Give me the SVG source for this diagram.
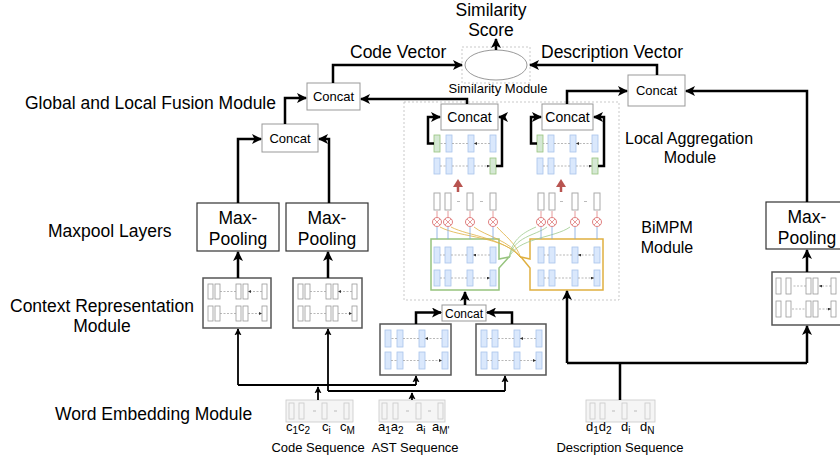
<svg xmlns="http://www.w3.org/2000/svg" width="840" height="461" viewBox="0 0 840 461">
<defs>
<style>
.t{font-family:"Liberation Sans",Arial,sans-serif;fill:#000}
.l{font-size:16px}
.L{font-size:17.5px}
.s{font-size:13px}
.c{text-anchor:middle}
.box{fill:#fff;stroke:#999;stroke-width:1}
.mp{fill:#fff;stroke:#333;stroke-width:1.2}
.ctx{fill:#fff;stroke:#555;stroke-width:1.5}
.g{fill:#fff;stroke:#999;stroke-width:0.8}
.b{fill:#dae8fc;stroke:#a9c4eb;stroke-width:0.8}
.gr{fill:#d5e8d4;stroke:#97c47e;stroke-width:0.8}
.seq{fill:#f5f5f5;stroke:#c8c8c8;stroke-width:0.8}
.w{fill:none;stroke:#000;stroke-width:2.5}
.th{fill:none;stroke:#000;stroke-width:1.8}
.d{fill:none;stroke:#999;stroke-width:0.7;stroke-dasharray:2 1.5}
.dash{stroke:#bbb;stroke-width:1}
.ob{fill:#fff;stroke:#aaa;stroke-width:1}
.ci{fill:#fff;stroke:#e08080;stroke-width:1}
.cx{stroke:#e08080;stroke-width:0.8}
.ra{stroke:#e08080;stroke-width:0.8;fill:none}
.ba{stroke:#7ea6e0;stroke-width:0.8;fill:none}
.og{fill:none;stroke:#e0b040;stroke-width:0.8}
.gg{fill:none;stroke:#9cc98a;stroke-width:0.8}
</style>
<marker id="a" viewBox="0 0 10 10" refX="9" refY="5" markerWidth="4" markerHeight="4" orient="auto"><path d="M0,0 L10,5 L0,10 L2.5,5 z" fill="#000"/></marker>
<marker id="sm" viewBox="0 0 6 6" refX="6" refY="3" markerWidth="3" markerHeight="3" markerUnits="userSpaceOnUse" orient="auto"><path d="M0,0 L6,3 L0,6 z" fill="#333"/></marker>
</defs>
<rect width="840" height="461" fill="#fff"/>

<!-- labels -->
<g id="labels" class="t">
<text class="L c" x="491" y="16">Similarity</text>
<text class="L c" x="491" y="36">Score</text>
<text class="L" x="350" y="58">Code Vector</text>
<text class="L" x="541" y="58">Description Vector</text>
<text class="L" x="25" y="109">Global and Local Fusion Module</text>
<text class="L" x="48" y="237">Maxpool Layers</text>
<text class="L" x="10" y="312">Context Representation</text>
<text class="L c" x="102" y="332">Module</text>
<text class="L" x="55" y="420">Word Embedding Module</text>
<text class="l" x="625" y="144">Local Aggregation</text>
<text class="l c" x="690" y="163">Module</text>
<text class="l c" x="667" y="233">BiMPM</text>
<text class="l c" x="667" y="253">Module</text>
</g>

<!-- similarity module -->
<g id="similarity">
<rect x="462" y="47" width="68" height="36" fill="none" stroke="#bbb" stroke-width="0.8" stroke-dasharray="2 2"/>
<ellipse cx="496" cy="65" rx="31" ry="15" fill="#fff" stroke="#999" stroke-width="1"/>
<text class="t c" x="498" y="93" font-size="13">Similarity Module</text>
</g>

<!-- BiMPM region -->
<g id="bimpm">
<rect x="404" y="102" width="215" height="198" fill="none" stroke="#bbb" stroke-width="0.8" stroke-dasharray="2 2"/>
</g>

<!-- concat nodes -->
<g id="concat-fusion"><rect class="box" x="307" y="83" width="53" height="27"/><text class="t s c" x="333.5" y="101">Concat</text></g>
<g id="concat-global"><rect class="box" x="262" y="124" width="56" height="28"/><text class="t s c" x="290" y="143">Concat</text></g>
<g id="concat-desc"><rect class="box" x="628" y="75" width="57" height="31"/><text class="t s c" x="656.5" y="95">Concat</text></g>
<g id="concat-local-left"><rect class="box" x="441" y="104" width="57" height="26"/><text class="t c" font-size="14" x="469.5" y="122">Concat</text></g>
<g id="concat-local-right"><rect class="box" x="542" y="104" width="51" height="26"/><text class="t c" font-size="14" x="567.5" y="122">Concat</text></g>
<g id="concat-bimpm"><rect class="box" x="442" y="305" width="44" height="16"/><text class="t c" font-size="12" x="464" y="317.5">Concat</text></g>

<!-- max pooling -->
<g id="maxpool-1" class="t"><rect class="mp" x="197" y="203" width="82" height="48"/><text class="L c" x="238" y="224">Max-</text><text class="L c" x="238" y="245">Pooling</text></g>
<g id="maxpool-2" class="t"><rect class="mp" x="286" y="203" width="82" height="48"/><text class="L c" x="327" y="224">Max-</text><text class="L c" x="327" y="245">Pooling</text></g>
<g id="maxpool-3" class="t"><rect class="mp" x="766" y="202" width="90" height="47"/><text class="L c" x="807" y="223">Max-</text><text class="L c" x="807" y="244">Pooling</text></g>

<!-- context representation boxes -->
<g id="ctx-1">
<rect class="ctx" x="203" y="278" width="68" height="50"/>
<rect class="g" x="208" y="284" width="5" height="15"/><rect class="g" x="215" y="284" width="5" height="15"/><rect class="g" x="236" y="284" width="5" height="15"/><rect class="g" x="243" y="284" width="5" height="15"/><rect class="g" x="262" y="284" width="5" height="15"/>
<rect class="g" x="208" y="306" width="5" height="15"/><rect class="g" x="215" y="306" width="5" height="15"/><rect class="g" x="236" y="306" width="5" height="15"/><rect class="g" x="243" y="306" width="5" height="15"/><rect class="g" x="262" y="306" width="5" height="15"/>
<path class="d" d="M236,291.5 H220 M262,291.5 H248" marker-end="url(#sm)"/>
<path class="d" d="M220,313.5 H236 M248,313.5 H262" marker-end="url(#sm)"/>
</g>
<g id="ctx-2">
<rect class="ctx" x="293" y="278" width="69" height="50"/>
<rect class="g" x="298" y="284" width="5" height="15"/><rect class="g" x="305" y="284" width="5" height="15"/><rect class="g" x="326" y="284" width="5" height="15"/><rect class="g" x="333" y="284" width="5" height="15"/><rect class="g" x="352" y="284" width="5" height="15"/>
<rect class="g" x="298" y="306" width="5" height="15"/><rect class="g" x="305" y="306" width="5" height="15"/><rect class="g" x="326" y="306" width="5" height="15"/><rect class="g" x="333" y="306" width="5" height="15"/><rect class="g" x="352" y="306" width="5" height="15"/>
<path class="d" d="M326,291.5 H310 M352,291.5 H338" marker-end="url(#sm)"/>
<path class="d" d="M310,313.5 H326 M338,313.5 H352" marker-end="url(#sm)"/>
</g>
<g id="ctx-3">
<rect class="ctx" x="772" y="272" width="80" height="53"/>
<rect class="g" x="776" y="278" width="5" height="16"/><rect class="g" x="786" y="278" width="5" height="16"/><rect class="g" x="806" y="278" width="5" height="16"/><rect class="g" x="813" y="278" width="5" height="16"/><rect class="g" x="831" y="278" width="5" height="16"/>
<rect class="g" x="776" y="301" width="5" height="16"/><rect class="g" x="786" y="301" width="5" height="16"/><rect class="g" x="806" y="301" width="5" height="16"/><rect class="g" x="813" y="301" width="5" height="16"/><rect class="g" x="831" y="301" width="5" height="16"/>
<path class="d" d="M806,286 H792 M831,286 H819" marker-end="url(#sm)"/>
<path class="d" d="M792,309 H806 M819,309 H831" marker-end="url(#sm)"/>
</g>

<!-- BiMPM context boxes (code / AST) -->
<g id="ctx-code">
<rect class="ctx" x="380" y="324" width="71" height="51"/>
<rect class="b" x="385" y="330" width="6" height="17"/><rect class="b" x="397" y="330" width="6" height="17"/><rect class="b" x="419" y="330" width="6" height="17"/><rect class="b" x="442" y="330" width="6" height="17"/>
<rect class="b" x="385" y="352" width="6" height="17"/><rect class="b" x="397" y="352" width="6" height="17"/><rect class="b" x="419" y="352" width="6" height="17"/><rect class="b" x="442" y="352" width="6" height="17"/>
<path class="d" d="M397,338.5 H391 M419,338.5 H403 M442,338.5 H425" marker-end="url(#sm)"/>
<path class="d" d="M391,360.5 H397 M403,360.5 H419 M425,360.5 H442" marker-end="url(#sm)"/>
</g>
<g id="ctx-ast">
<rect class="ctx" x="476" y="324" width="70" height="51"/>
<rect class="b" x="481" y="330" width="6" height="17"/><rect class="b" x="492" y="330" width="6" height="17"/><rect class="b" x="514" y="330" width="6" height="17"/><rect class="b" x="536" y="330" width="6" height="17"/>
<rect class="b" x="481" y="352" width="6" height="17"/><rect class="b" x="492" y="352" width="6" height="17"/><rect class="b" x="514" y="352" width="6" height="17"/><rect class="b" x="536" y="352" width="6" height="17"/>
<path class="d" d="M492,338.5 H487 M514,338.5 H498 M536,338.5 H520" marker-end="url(#sm)"/>
<path class="d" d="M487,360.5 H492 M498,360.5 H514 M520,360.5 H536" marker-end="url(#sm)"/>
</g>

<!-- BiMPM matching boxes -->
<g id="match-green">
<path d="M431,239 H499 V259 L509,257 L499,268 V290 H431 Z" fill="#fff" stroke="#97c47e" stroke-width="1.5"/>
<rect class="b" x="434" y="247" width="6" height="16"/><rect class="b" x="445" y="247" width="6" height="16"/><rect class="b" x="467" y="247" width="6" height="16"/><rect class="b" x="490" y="247" width="6" height="16"/>
<rect class="b" x="434" y="270" width="6" height="16"/><rect class="b" x="445" y="270" width="6" height="16"/><rect class="b" x="467" y="270" width="6" height="16"/><rect class="b" x="490" y="270" width="6" height="16"/>
<path class="d" d="M445,255 H440 M467,255 H451 M490,255 H473" marker-end="url(#sm)"/>
<path class="d" d="M440,278 H445 M451,278 H467 M473,278 H490" marker-end="url(#sm)"/>
</g>
<g id="match-orange">
<path d="M530,239 H603 V290 H530 V268 L521,257 L530,259 Z" fill="#fff" stroke="#e0b040" stroke-width="1.5"/>
<rect class="b" x="538" y="247" width="6" height="16"/><rect class="b" x="549" y="247" width="6" height="16"/><rect class="b" x="572" y="247" width="6" height="16"/><rect class="b" x="594" y="247" width="6" height="16"/>
<rect class="b" x="538" y="270" width="6" height="16"/><rect class="b" x="549" y="270" width="6" height="16"/><rect class="b" x="572" y="270" width="6" height="16"/><rect class="b" x="594" y="270" width="6" height="16"/>
<path class="d" d="M549,255 H544 M572,255 H555 M594,255 H578" marker-end="url(#sm)"/>
<path class="d" d="M544,278 H549 M555,278 H572 M578,278 H594" marker-end="url(#sm)"/>
</g>

<!-- matching operations -->
<g id="match-ops">
<path class="og" d="M521,258 C505,236 460,238 440,227 M521,258 C505,238 468,236 451,227 M521,258 C510,240 485,236 474,227 M521,258 C515,242 505,236 497,227"/>
<path class="gg" d="M509,258 C512,238 525,232 536,227 M509,258 C514,236 535,236 547,227 M509,258 C516,238 555,238 570,227"/>
<path class="ba" d="M437,239 V227 M448,239 V227 M470,239 V227 M493,239 V227 M541,239 V227 M552,239 V227 M575,239 V227 M597,239 V227"/>
<g class="ci">
<circle cx="437" cy="222" r="4.5"/><circle cx="448" cy="222" r="4.5"/><circle cx="470" cy="222" r="4.5"/><circle cx="493" cy="222" r="4.5"/>
<circle cx="541" cy="222" r="4.5"/><circle cx="552" cy="222" r="4.5"/><circle cx="575" cy="222" r="4.5"/><circle cx="597" cy="222" r="4.5"/>
</g>
<path class="cx" d="M434,219 l6,6 m0,-6 l-6,6 M445,219 l6,6 m0,-6 l-6,6 M467,219 l6,6 m0,-6 l-6,6 M490,219 l6,6 m0,-6 l-6,6 M538,219 l6,6 m0,-6 l-6,6 M549,219 l6,6 m0,-6 l-6,6 M572,219 l6,6 m0,-6 l-6,6 M594,219 l6,6 m0,-6 l-6,6"/>
<path class="ra" d="M437,217 V211 M448,217 V211 M470,217 V211 M493,217 V211 M541,217 V211 M552,217 V211 M575,217 V211 M597,217 V211"/>
<g class="ob">
<rect x="434" y="193" width="6" height="17"/><rect x="445" y="193" width="6" height="17"/><rect x="467" y="193" width="6" height="17"/><rect x="490" y="193" width="6" height="17"/>
<rect x="538" y="193" width="6" height="17"/><rect x="549" y="193" width="6" height="17"/><rect x="572" y="193" width="6" height="17"/><rect x="594" y="193" width="6" height="17"/>
</g>
<path class="dash" d="M457,201.5 h3 M480,201.5 h3 M560,201.5 h3 M584,201.5 h3"/>
<path d="M458,192 V186" stroke="#b85450" stroke-width="2.5"/><path d="M453,187 L458,179 L463,187 Z" fill="#b85450"/>
<path d="M561,192 V186" stroke="#b85450" stroke-width="2.5"/><path d="M556,187 L561,179 L566,187 Z" fill="#b85450"/>
</g>

<!-- local aggregation -->
<g id="agg-left">
<rect class="gr" x="434" y="135" width="6" height="17"/><rect class="b" x="446" y="135" width="6" height="17"/><rect class="b" x="468" y="135" width="6" height="17"/><rect class="b" x="490" y="135" width="6" height="17"/>
<rect class="b" x="434" y="158" width="6" height="16"/><rect class="b" x="446" y="158" width="6" height="16"/><rect class="b" x="468" y="158" width="6" height="16"/><rect class="gr" x="490" y="158" width="6" height="16"/>
<path class="d" d="M446,143.5 H440 M468,143.5 H452 M490,143.5 H474" marker-end="url(#sm)"/>
<path class="d" d="M440,166 H446 M452,166 H468 M474,166 H490" marker-end="url(#sm)"/>
</g>
<g id="agg-right">
<rect class="gr" x="537" y="135" width="6" height="17"/><rect class="b" x="548" y="135" width="6" height="17"/><rect class="b" x="570" y="135" width="6" height="17"/><rect class="b" x="592" y="135" width="6" height="17"/>
<rect class="b" x="537" y="158" width="6" height="16"/><rect class="b" x="548" y="158" width="6" height="16"/><rect class="b" x="570" y="158" width="6" height="16"/><rect class="gr" x="592" y="158" width="6" height="16"/>
<path class="d" d="M548,143.5 H543 M570,143.5 H554 M592,143.5 H576" marker-end="url(#sm)"/>
<path class="d" d="M543,166 H548 M554,166 H570 M576,166 H592" marker-end="url(#sm)"/>
</g>

<!-- sequences -->
<g id="seq-code" class="t">
<rect class="seq" x="286" y="400" width="67" height="22" fill="#fff"/>
<rect class="seq" x="289" y="403" width="5" height="16"/><rect class="seq" x="299" y="403" width="5" height="16"/><rect class="seq" x="322" y="403" width="5" height="16"/><rect class="seq" x="344" y="403" width="5" height="16"/>
<path class="dash" d="M313,411 h3 M334,411 h3"/>
<text font-size="13" x="286" y="431">c<tspan font-size="10" dy="3">1</tspan><tspan dy="-3">c</tspan><tspan font-size="10" dy="3">2</tspan></text>
<text font-size="13" x="322" y="431">c<tspan font-size="10" dy="3">i</tspan></text>
<text font-size="13" x="340" y="431">c<tspan font-size="10" dy="3">M</tspan></text>
<text class="c" font-size="13" x="318" y="452">Code Sequence</text>
</g>
<g id="seq-ast" class="t">
<rect class="seq" x="379" y="400" width="66" height="22" fill="#fff"/>
<rect class="seq" x="382" y="403" width="5" height="16"/><rect class="seq" x="393" y="403" width="5" height="16"/><rect class="seq" x="416" y="403" width="5" height="16"/><rect class="seq" x="438" y="403" width="5" height="16"/>
<path class="dash" d="M406,411 h3 M428,411 h3"/>
<text font-size="13" x="378" y="431">a<tspan font-size="10" dy="3">1</tspan><tspan dy="-3">a</tspan><tspan font-size="10" dy="3">2</tspan></text>
<text font-size="13" x="416" y="431">a<tspan font-size="10" dy="3">i</tspan></text>
<text font-size="13" x="432" y="431">a<tspan font-size="10" dy="3">M'</tspan></text>
<text class="c" font-size="13" x="415" y="452">AST Sequence</text>
</g>
<g id="seq-desc" class="t">
<rect class="seq" x="586" y="400" width="69" height="22" fill="#fff"/>
<rect class="seq" x="590" y="403" width="5" height="16"/><rect class="seq" x="600" y="403" width="5" height="16"/><rect class="seq" x="622" y="403" width="5" height="16"/><rect class="seq" x="645" y="403" width="5" height="16"/>
<path class="dash" d="M612,411 h3 M634,411 h3"/>
<text font-size="13" x="586" y="431">d<tspan font-size="10" dy="3">1</tspan><tspan dy="-3">d</tspan><tspan font-size="10" dy="3">2</tspan></text>
<text font-size="13" x="621" y="431">d<tspan font-size="10" dy="3">i</tspan></text>
<text font-size="13" x="640" y="431">d<tspan font-size="10" dy="3">N</tspan></text>
<text class="c" font-size="13" x="620" y="452">Description Sequence</text>
</g>

<!-- connectors -->
<g id="connectors">
<path class="w" d="M333,83 V65 H462" marker-end="url(#a)"/>
<path class="w" d="M657,75 V65 H530" marker-end="url(#a)"/>
<path class="w" d="M496,50 V39" marker-end="url(#a)"/>
<path class="w" d="M467,104 V99 H361" marker-end="url(#a)"/>
<path class="w" d="M285,124 V98 H306" marker-end="url(#a)"/>
<path class="w" d="M238,203 V139 H261" marker-end="url(#a)"/>
<path class="w" d="M329,203 V139 H319" marker-end="url(#a)"/>
<path class="w" d="M238,278 V252" marker-end="url(#a)"/>
<path class="w" d="M328,278 V252" marker-end="url(#a)"/>
<path class="w" d="M567,104 V91 H627" marker-end="url(#a)"/>
<path class="w" d="M807,202 V91 H686" marker-end="url(#a)"/>
<path class="w" d="M807,272 V250" marker-end="url(#a)"/>
<path class="w" d="M434,143.5 H428 V117 H440" marker-end="url(#a)"/>
<path class="w" d="M496,166 H502 V117 H499" marker-end="url(#a)"/>
<path class="w" d="M537,143.5 H531 V117 H541" marker-end="url(#a)"/>
<path class="w" d="M598,166 H604 V117 H594" marker-end="url(#a)"/>
<path class="w" d="M465,305 V292" marker-end="url(#a)"/>
<path class="w" d="M416,324 V312.5 H441" marker-end="url(#a)"/>
<path class="w" d="M512,324 V312.5 H487" marker-end="url(#a)"/>
<path class="th" d="M318,400 V387" marker-end="url(#a)"/>
<path class="th" d="M238,385 H416"/>
<path class="th" d="M238,385 V329" marker-end="url(#a)"/>
<path class="th" d="M416,385 V376" marker-end="url(#a)"/>
<path class="th" d="M412,400 V393" marker-end="url(#a)"/>
<path class="th" d="M328,391 H505"/>
<path class="th" d="M328,391 V329" marker-end="url(#a)"/>
<path class="th" d="M505,391 V376" marker-end="url(#a)"/>
<path class="w" d="M620,400 V363"/>
<path class="w" d="M567,363 H807"/>
<path class="w" d="M567,363 V291" marker-end="url(#a)"/>
<path class="w" d="M807,363 V326" marker-end="url(#a)"/>
</g>
</svg>
